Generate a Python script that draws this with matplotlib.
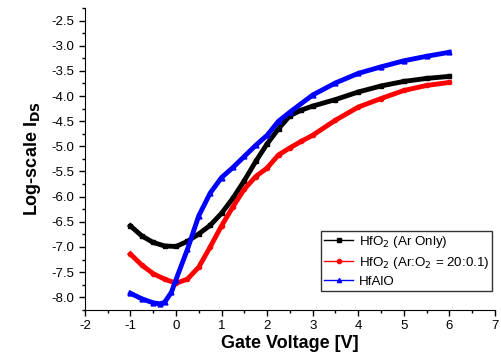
import numpy as np
import matplotlib.pyplot as plt
from matplotlib.ticker import MultipleLocator, FormatStrFormatter

plt.rcParams['font.family'] = ['Liberation Sans', 'DejaVu Sans']
plt.rcParams['axes.unicode_minus'] = False

# gate voltage / log current
v_black = [-1, -0.75, -0.5, -0.25, 0, 0.25, 0.5, 0.75, 1, 1.25, 1.5, 1.75, 2,
           2.25, 2.5, 2.75, 3, 3.5, 4, 4.5, 5, 5.5, 6]
i_black = [-6.58, -6.78, -6.91, -6.98, -6.99, -6.89, -6.74, -6.57, -6.33, -6.03,
           -5.68, -5.30, -4.95, -4.65, -4.39, -4.28, -4.20, -4.07, -3.92, -3.80,
           -3.71, -3.65, -3.61]

v_red = [-1, -0.75, -0.5, -0.25, 0, 0.25, 0.5, 0.75, 1, 1.25, 1.5, 1.75, 2,
         2.25, 2.5, 2.75, 3, 3.5, 4, 4.5, 5, 5.5, 6]
i_red = [-7.14, -7.36, -7.53, -7.64, -7.72, -7.64, -7.40, -7.00, -6.58, -6.20,
         -5.85, -5.60, -5.43, -5.17, -5.03, -4.90, -4.78, -4.48, -4.22, -4.05,
         -3.89, -3.79, -3.73]

v_blue = [-1, -0.75, -0.5, -0.35, -0.25, -0.1, 0, 0.25, 0.5, 0.75, 1, 1.25, 1.5,
          1.75, 2, 2.25, 2.5, 3, 3.5, 4, 4.5, 5, 5.5, 6]
i_blue = [-7.92, -8.03, -8.11, -8.13, -8.10, -7.90, -7.65, -7.05, -6.38, -5.93,
          -5.62, -5.42, -5.20, -4.98, -4.78, -4.50, -4.32, -3.98, -3.74, -3.55,
          -3.42, -3.30, -3.21, -3.13]

labels = ['HfO$_2$ (Ar Only)', 'HfO$_2$ (Ar:O$_2$ = 20:0.1)', 'HfAlO']

fig = plt.figure(figsize=(5.02, 3.62), dpi=100)
ax = fig.add_axes([0.169, 0.144, 0.817, 0.834])

ax.plot(v_black, i_black, color='black', marker='s', ms=3, lw=3.5, label=labels[0])
ax.plot(v_red, i_red, color='red', marker='o', ms=3, lw=3.5, label=labels[1])
ax.plot(v_blue, i_blue, color='blue', marker='^', ms=3.5, lw=3.5, label=labels[2])

ax.set_xlim(-2, 7)
ax.set_ylim(-8.25, -2.25)
ax.xaxis.set_major_locator(MultipleLocator(1))
ax.xaxis.set_minor_locator(MultipleLocator(0.5))
ax.yaxis.set_major_locator(MultipleLocator(0.5))
ax.yaxis.set_minor_locator(MultipleLocator(0.25))
ax.yaxis.set_major_formatter(FormatStrFormatter('%.1f'))
ax.tick_params(which='major', direction='out', length=4, width=1, labelsize=9.5)
ax.tick_params(which='minor', direction='out', length=2.5, width=1)
ax.spines['top'].set_visible(False)
ax.spines['right'].set_visible(False)

ax.set_xlabel('Gate Voltage [V]', fontsize=13, fontweight='bold', labelpad=2)
ax.set_ylabel('Log-scale I$_{\\mathbf{DS}}$', fontsize=13, fontweight='bold', labelpad=6)

# legend handles use thin lines with one marker
handles = [plt.Line2D([], [], color=c, marker=m, ms=3, lw=1)
           for c, m in [('black', 's'), ('red', 'o'), ('blue', '^')]]
leg = ax.legend(handles, labels, loc='lower right', bbox_to_anchor=(0.997, 0.058),
                fontsize=9.6, fancybox=False, framealpha=1, edgecolor='#333333',
                handlelength=2.2, borderpad=0.25, labelspacing=0.35, handletextpad=0.4,
                borderaxespad=0.1)
leg.get_frame().set_linewidth(1)

fig.savefig('out.png', dpi=100)
